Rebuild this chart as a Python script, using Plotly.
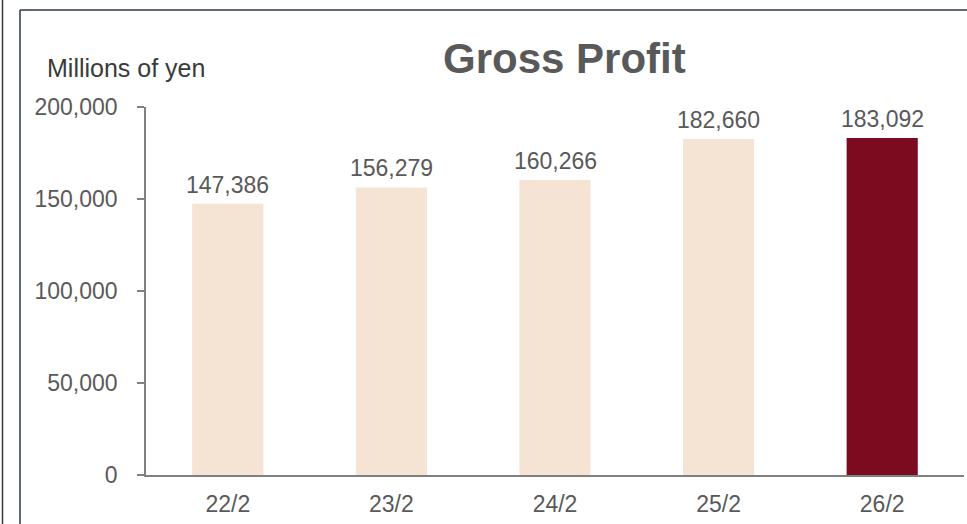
import plotly.graph_objects as go

categories = ["22/2", "23/2", "24/2", "25/2", "26/2"]
gross_profit = [147386, 156279, 160266, 182660, 183092]
bar_colors = ["#F5E4D4", "#F5E4D4", "#F5E4D4", "#F5E4D4", "#7C0B1F"]
y_ticks = [0, 50000, 100000, 150000, 200000]
y_tick_labels = ["0", "50,000", "100,000", "150,000", "200,000"]

W, H = 967, 524
ML, MR, MT, MB = 146, 3, 107, 49
PW, PH = W - ML - MR, H - MT - MB


def px_x(x):
    return (x - ML) / PW


def px_y(y):
    return (H - MB - y) / PH


FONT = "Liberation Sans, Arial, sans-serif"
GRAY = "#595959"

fig = go.Figure()
fig.add_trace(go.Bar(
    x=categories, y=gross_profit, marker_color=bar_colors,
    marker_line_width=0, width=0.435, hoverinfo="x+y",
))

for c, v in zip(categories, gross_profit):
    fig.add_annotation(x=c, y=v, text=f"{v:,}", showarrow=False,
                       yanchor="bottom", yshift=4,
                       font=dict(family=FONT, size=23, color=GRAY))

fig.add_annotation(xref="paper", yref="paper", x=px_x(45), y=px_y(68),
                   xanchor="left", yanchor="middle", text="Millions of yen",
                   showarrow=False, font=dict(family=FONT, size=25, color="#3A3A3A"))
fig.add_annotation(xref="paper", yref="paper", x=px_x(564), y=px_y(58),
                   xanchor="center", yanchor="middle", text="<b>Gross Profit</b>",
                   showarrow=False, font=dict(family=FONT, size=42, color=GRAY))

# outer frame lines
frame = dict(color="#2B3644", width=1.5)
fig.add_shape(type="line", xref="paper", yref="paper", x0=px_x(20), x1=px_x(968),
              y0=px_y(10), y1=px_y(10), line=frame)
fig.add_shape(type="line", xref="paper", yref="paper", x0=px_x(20), x1=px_x(20),
              y0=px_y(10), y1=px_y(526), line=frame)
fig.add_shape(type="line", xref="paper", yref="paper", x0=px_x(2.5), x1=px_x(2.5),
              y0=px_y(-2), y1=px_y(526), line=dict(color="#3A3A3A", width=1.5))

fig.update_layout(
    width=W, height=H, margin=dict(l=ML, r=MR, t=MT, b=MB),
    paper_bgcolor="white", plot_bgcolor="white", showlegend=False,
    bargap=0.565,
    font=dict(family=FONT, size=23, color=GRAY),
)
fig.update_xaxes(showline=True, linecolor="#808080", linewidth=1.5, ticks="",
                 showgrid=False, tickfont=dict(size=23, color=GRAY),
                 ticklabelstandoff=8)
fig.update_yaxes(range=[0, 200000], tickvals=y_ticks, ticktext=y_tick_labels,
                 showline=True, linecolor="#808080", linewidth=1.5,
                 ticks="outside", ticklen=7, tickcolor="#808080", tickwidth=1.5,
                 showgrid=False, zeroline=False, tickfont=dict(size=23, color=GRAY),
                 ticklabelstandoff=15)

fig.write_html(
    "out.html",
    config={"displayModeBar": False},
    post_script="document.body.style.margin='0';document.body.style.overflow='hidden';",
)
